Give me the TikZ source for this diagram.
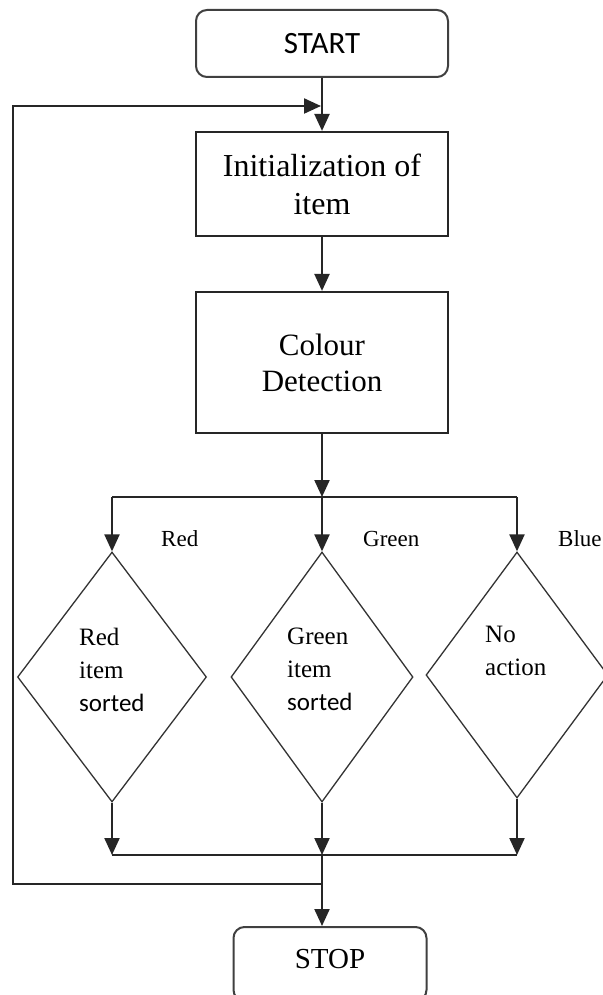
\documentclass[tikz,border=0pt]{standalone}
\usepackage{fontspec}
\setmainfont{Liberation Serif}
\newfontfamily\calib{Carlito}
\usetikzlibrary{arrows.meta,shapes.geometric}
\begin{document}
\begin{tikzpicture}[x=1pt,y=-1pt,
  line/.style={draw=black!85, line width=2.2pt},
  arr/.style={line, -{Triangle[length=17pt,width=15pt]}},
  term/.style={draw=black!75, line width=2pt, rounded corners=11pt, inner sep=0pt},
  proc/.style={draw=black!85, line width=2.2pt, minimum width=252pt, inner sep=0pt, align=center},
  dia/.style={draw=black!80, line width=1.3pt, diamond, inner sep=0pt},
  dtext/.style={anchor=north west, align=left, inner sep=0pt, font=\fontsize{25}{33}\selectfont},
  lab/.style={anchor=west, inner sep=0pt, font=\fontsize{23}{23}\selectfont},
]
\useasboundingbox (0,0) rectangle (602,995);
\fill[white] (0,0) rectangle (602,995);

\node[term, minimum width=252pt, minimum height=67pt, font=\calib\fontsize{31}{31}\selectfont] (start) at (322,43.5) {START};
\node[proc, minimum height=104pt, font=\fontsize{32}{38}\selectfont] (init) at (322,184) {Initialization of\\item};
\node[proc, minimum height=141pt, font=\fontsize{31}{36}\selectfont] (col) at (322,362.5) {Colour\\Detection};

\coordinate (split) at (322,497);
\coordinate (s1) at (112,497);
\coordinate (s3) at (517,497);

\node[dia, minimum width=189pt, minimum height=250pt] (d1) at (112,677) {};
\node[dia, minimum width=182pt, minimum height=250pt] (d2) at (322,677) {};
\node[dia, minimum width=182pt, minimum height=246pt] (d3) at (517,675) {};

\node[dtext] (t1) at (79,628) {Red\\item\\{\calib sorted}};
\node[dtext] (t2) at (287,628) {Green\\item\\{\calib sorted}};
\node[dtext] (t3) at (485,626) {No\\action};

\node[lab] (lred) at (161,539) {Red};
\node[lab] (lgreen) at (363,539) {Green};
\node[lab] (lblue) at (558,539) {Blue};

\coordinate (j1) at (112,855);
\coordinate (j2) at (322,855);
\coordinate (j3) at (517,855);
\coordinate (lA) at (322,884);
\coordinate (lB) at (13,884);
\coordinate (lC) at (13,106);
\coordinate (lD) at (321,106);

\node[term, minimum width=193pt, minimum height=74pt, text depth=10pt, font=\fontsize{29}{29}\selectfont] (stop) at (330,964) {STOP};

\draw[arr] (start) -- (init);
\draw[arr] (init) -- (col);
\draw[arr] (col) -- (split);
\draw[line] (s1) -- (s3);
\draw[arr] (s1) -- (d1.north);
\draw[arr] (split) -- (d2.north);
\draw[arr] (s3) -- (d3.north);
\draw[arr] (d1.south) -- (j1);
\draw[arr] (d2.south) -- (j2);
\draw[arr] (d3.south) -- (j3);
\draw[line] (j1) -- (j3);
\draw[arr] (j2) -- (j2 |- stop.north);
\draw[arr] (lA) -- (lB) -- (lC) -- (lD);
\end{tikzpicture}
\end{document}
